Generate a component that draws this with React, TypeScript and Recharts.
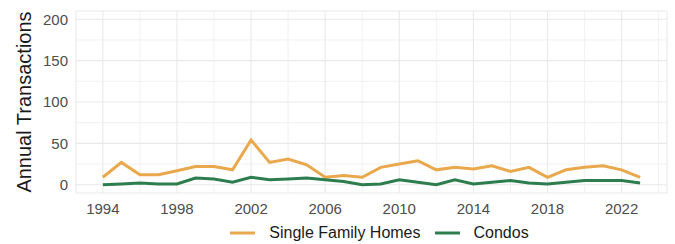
import React from "react";
import { LineChart, Line, XAxis, YAxis, CartesianGrid, Legend, ReferenceLine } from "recharts";

const years = [1994,1995,1996,1997,1998,1999,2000,2001,2002,2003,2004,2005,2006,2007,2008,2009,2010,2011,2012,2013,2014,2015,2016,2017,2018,2019,2020,2021,2022,2023];
const singleFamily = [9,27,12,12,17,22,22,18,54,27,31,24,9,11,9,21,25,29,18,21,19,23,16,21,9,18,21,23,18,9];
const condos = [0,1,2,1,1,8,7,3,9,6,7,8,6,4,0,1,6,3,0,6,1,3,5,2,1,3,5,5,5,2];
const xTicks = [1994,1998,2002,2006,2010,2014,2018,2022];
const xMinor = [1996,2000,2004,2008,2012,2016,2020,2024];
const yTicks = [0,50,100,150,200];
const yMinor = [25,75,125,175];
const seriesOrder = ["sfh", "condo"];

const data = years.map((y, i) => ({ year: y, sfh: singleFamily[i], condo: condos[i] }));

const ORANGE = "#E9A84C";
const GREEN = "#2E7D4F";
const FONT = "'Liberation Sans', Arial, sans-serif";

const LegendContent = (props: any) => {
  const payload = [...(props.payload || [])].sort(
    (a: any, b: any) => seriesOrder.indexOf(a.dataKey) - seriesOrder.indexOf(b.dataKey)
  );
  return (
    <div style={{ height: 20, display: "flex", justifyContent: "center", alignItems: "center", paddingLeft: 92, fontFamily: FONT, fontSize: 16, color: "#1a1a1a" }}>
      {payload.map((p: any, i: number) => (
        <div key={i} style={{ display: "flex", alignItems: "center", marginRight: i === 0 ? 14 : 0 }}>
          <svg width={25} height={6} style={{ marginRight: 14 }}>
            <line x1={0} y1={3} x2={25} y2={3} stroke={p.color} strokeWidth={3} />
          </svg>
          <span>{p.value}</span>
        </div>
      ))}
    </div>
  );
};

export default function App() {
  return (
    <div style={{ position: "absolute", left: 0, top: 0, width: 675, height: 244, background: "#fff" }}>
      <LineChart width={675} height={244} data={data} margin={{ top: 11, right: 8, left: 0, bottom: 1 }}>
        <CartesianGrid stroke="#e9e9e9" strokeWidth={1.1} />
        {xMinor.map((v) => (
          <ReferenceLine key={"xm" + v} x={v} stroke="#eeeeee" strokeWidth={0.8} ifOverflow="hidden" />
        ))}
        {yMinor.map((v) => (
          <ReferenceLine key={"ym" + v} y={v} stroke="#eeeeee" strokeWidth={0.8} />
        ))}
        <XAxis
          dataKey="year"
          type="number"
          domain={[1992.55, 2024.45]}
          ticks={xTicks}
          allowDataOverflow
          axisLine={false}
          tickLine={false}
          tickMargin={4}
          height={30}
          tick={{ fill: "#4d4d4d", fontSize: 15, fontFamily: FONT }}
        />
        <YAxis
          type="number"
          domain={[-10, 210]}
          ticks={yTicks}
          allowDataOverflow
          axisLine={false}
          tickLine={false}
          width={76}
          tick={{ fill: "#4d4d4d", fontSize: 15, fontFamily: FONT }}
          label={{
            content: (lp: any) => {
              const vb = lp.viewBox || { x: 0, y: 0, height: 0 };
              const cx = 24;
              const cy = vb.y + vb.height / 2;
              return (
                <text x={cx} y={cy} transform={`rotate(-90 ${cx} ${cy})`} textAnchor="middle" dominantBaseline="central" fontSize={20} fontFamily={FONT} fill="#1a1a1a">
                  Annual Transactions
                </text>
              );
            },
          }}
        />
        <Legend verticalAlign="bottom" content={<LegendContent />} />
        <Line type="linear" dataKey="sfh" name="Single Family Homes" stroke={ORANGE} strokeWidth={3} dot={false} isAnimationActive={false} />
        <Line type="linear" dataKey="condo" name="Condos" stroke={GREEN} strokeWidth={3} dot={false} isAnimationActive={false} />
      </LineChart>
    </div>
  );
}
